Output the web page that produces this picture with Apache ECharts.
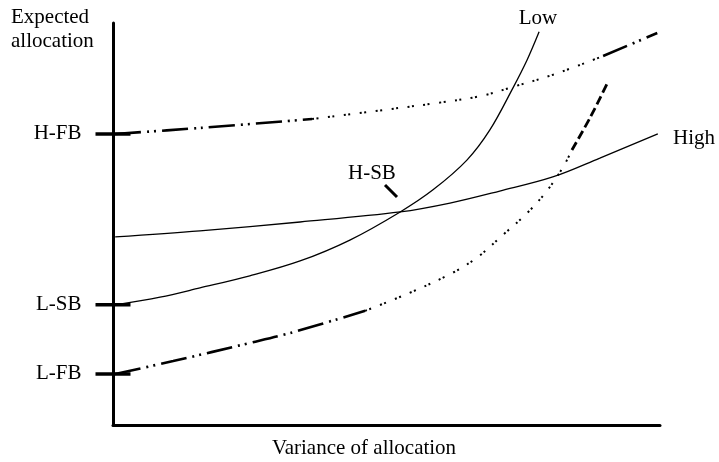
<!DOCTYPE html>
<html>
<head>
<meta charset="utf-8">
<script src="https://cdn.jsdelivr.net/npm/echarts@6/dist/echarts.min.js"></script>
<style>
html,body{margin:0;padding:0;background:#fff;}
#chart{width:719px;height:462px;}
</style>
</head>
<body>
<div id="chart"></div>
<script>
// ---- data (x: variance of allocation, y: expected allocation; arbitrary units 0-100) ----
const lowX  = [0.4, 8.6, 15.9, 25.0, 34.2, 43.3, 52.5, 58.5, 64.7, 68.9, 73.1, 75.7, 77.9];
const lowY  = [29.9, 31.8, 34.1, 37.1, 40.8, 46.0, 53.0, 58.5, 65.9, 73.4, 83.8, 90.8, 97.8];
const highX = [0.4, 15.9, 34.2, 52.5, 61.6, 70.7, 80.4, 89.0, 99.6];
const highY = [46.8, 48.3, 50.5, 53.0, 55.2, 58.2, 61.7, 66.4, 72.4];
const upperX = [0.4, 15.9, 36.4, 52.5, 59.2, 67.1, 73.1, 80.8, 89.6, 99.5];
const upperY = [72.4, 73.9, 76.1, 78.9, 80.1, 81.8, 84.1, 87.3, 91.8, 97.5];
const lowerX = [0.4, 11.0, 25.0, 32.4, 46.1, 54.1, 62.0, 66.7, 71.3, 75.7, 79.3, 82.3, 83.9, 87.2, 90.3];
const lowerY = [12.7, 15.9, 20.4, 22.9, 28.4, 32.8, 37.8, 41.8, 47.3, 52.7, 58.2, 64.2, 68.4, 76.4, 84.8];
const tickLabels = ['H-FB', 'L-SB', 'L-FB'];
const tickValues = [72.4, 29.9, 12.7];
const curveNames = ['Low', 'High', 'H-SB'];
const yTitle = 'Expected\nallocation';
const xTitle = 'Variance of allocation';

// ---- build ----
const FONT = '"Liberation Serif", "Times New Roman", serif';
const zip = (xs, ys) => xs.map((x, i) => [x, ys[i]]);
const dashDotDot = [26, 6, 2, 5, 2, 6];
const dots = [2, 2.5, 2, 9.5];
const dashed = [9, 4];

function seg(xs, ys, from, to, type, width) {
  return {
    type: 'line', data: zip(xs, ys).slice(from, to + 1), smooth: 0.35,
    symbol: 'none', silent: true, clip: false,
    lineStyle: { color: '#000', width: width, type: type, cap: 'butt' }
  };
}

const series = [
  seg(lowX, lowY, 0, lowX.length - 1, 'solid', 1.3),
  seg(highX, highY, 0, highX.length - 1, 'solid', 1.3),
  seg(upperX, upperY, 0, 2, dashDotDot, 2.6),
  seg(upperX, upperY, 2, 8, dots, 2),
  seg(upperX, upperY, 8, 9, dashDotDot, 2.6),
  seg(lowerX, lowerY, 0, 4, dashDotDot, 2.6),
  seg(lowerX, lowerY, 4, 12, dots, 2),
  seg(lowerX, lowerY, 12, 14, dashed, 2.8),
  {
    type: 'scatter', clip: false, silent: true,
    symbol: 'rect', symbolSize: [35, 3.5],
    itemStyle: { color: '#000', opacity: 1 },
    data: tickValues.map((v, i) => ({ value: [0, v], name: tickLabels[i] })),
    label: {
      show: true, position: 'left', distance: 14, opacity: 1,
      formatter: p => p.name, color: '#000', fontFamily: FONT, fontSize: 21
    }
  }
];

const chart = echarts.init(document.getElementById('chart'), null, { renderer: 'canvas' });
chart.setOption({
  backgroundColor: '#fff',
  animation: false,
  grid: { left: 113, top: 23, width: 547, height: 402 },
  xAxis: {
    type: 'value', min: 0, max: 100,
    axisLine: { show: true, lineStyle: { color: '#000', width: 3 } },
    axisTick: { show: false }, axisLabel: { show: false }, splitLine: { show: false }
  },
  yAxis: {
    type: 'value', min: 0, max: 100,
    axisLine: { show: true, lineStyle: { color: '#000', width: 3 } },
    axisTick: { show: false }, axisLabel: { show: false }, splitLine: { show: false }
  },
  series: series,
  graphic: [
    { type: 'text', left: 11, top: 5,
      style: { text: yTitle, font: '21px ' + FONT, lineHeight: 24, fill: '#000' } },
    { type: 'text', x: 364, y: 448,
      style: { text: xTitle, font: '21px ' + FONT, fill: '#000', align: 'center', verticalAlign: 'middle' } },
    { type: 'text', x: 538, y: 18,
      style: { text: curveNames[0], font: '21px ' + FONT, fill: '#000', align: 'center', verticalAlign: 'middle' } },
    { type: 'text', x: 673, y: 138,
      style: { text: curveNames[1], font: '21px ' + FONT, fill: '#000', align: 'left', verticalAlign: 'middle' } },
    { type: 'text', x: 348, y: 173,
      style: { text: curveNames[2], font: '21px ' + FONT, fill: '#000', align: 'left', verticalAlign: 'middle' } },
    { type: 'line', shape: { x1: 385, y1: 185, x2: 397, y2: 197 },
      style: { stroke: '#000', lineWidth: 3 } }
  ]
});
</script>
</body>
</html>
